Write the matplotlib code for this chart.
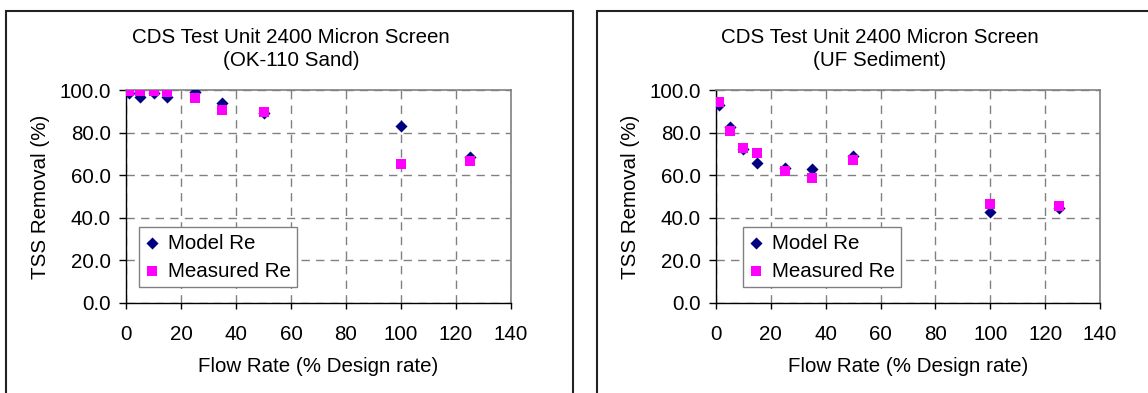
import matplotlib
matplotlib.use("Agg")
import matplotlib.pyplot as plt
from matplotlib.patches import Rectangle
from matplotlib.ticker import FormatStrFormatter, MultipleLocator

plt.rcParams['font.family'] = ['Liberation Sans', 'DejaVu Sans']

flow = [1, 5, 10, 15, 25, 35, 50, 100, 125]

sand_model = [98.7, 96.9, 98.7, 96.6, 99.2, 94.0, 89.0, 83.1, 68.7]
sand_measured = [99.7, 99.7, 99.7, 99.2, 96.1, 90.6, 89.5, 65.1, 66.8]

uf_model = [93.0, 82.8, 72.3, 65.7, 63.5, 62.8, 69.0, 42.6, 44.5]
uf_measured = [94.4, 80.6, 72.6, 70.3, 61.8, 58.8, 67.1, 46.3, 45.7]

titles = ["CDS Test Unit 2400 Micron Screen\n(OK-110 Sand)",
          "CDS Test Unit 2400 Micron Screen\n(UF Sediment)"]
series_labels = ["Model Re", "Measured Re"]
xlabel = "Flow Rate (% Design rate)"
ylabel = "TSS Removal (%)"

W, H = 1148, 393
fig = plt.figure(figsize=(W / 100, H / 100), dpi=100)

FS = 14.8

panels = [
    dict(ax=(126, 511), box=(6, 573), title_x=291, leg_x=0.034,
         model=sand_model, meas=sand_measured, title=titles[0]),
    dict(ax=(716, 1100), box=(597, 1170), title_x=880, leg_x=0.07,
         model=uf_model, meas=uf_measured, title=titles[1]),
]

ax_top, ax_bot = 90, 303

for p in panels:
    x0, x1 = p['ax']
    ax = fig.add_axes([x0 / W, 1 - ax_bot / H, (x1 - x0) / W, (ax_bot - ax_top) / H])
    ax.scatter(flow, p['model'], marker='D', s=38, color='#000080',
               label=series_labels[0], zorder=3, linewidths=0)
    ax.scatter(flow, p['meas'], marker='s', s=50, color='#FF00FF',
               label=series_labels[1], zorder=4, linewidths=0)
    ax.set_xlim(0, 140)
    ax.set_ylim(0, 100)
    ax.xaxis.set_major_locator(MultipleLocator(20))
    ax.yaxis.set_major_locator(MultipleLocator(20))
    ax.yaxis.set_major_formatter(FormatStrFormatter('%.1f'))
    ax.grid(True, color='#808080', linestyle=(0, (6, 4.5)), linewidth=1.0)
    ax.set_axisbelow(True)
    for s in ['top', 'right']:
        ax.spines[s].set_color('#808080')
        ax.spines[s].set_linewidth(1.2)
    for s in ['left', 'bottom']:
        ax.spines[s].set_color('black')
        ax.spines[s].set_linewidth(1.0)
    ax.tick_params(axis='x', direction='out', length=4.5, width=1.0,
                   pad=11, labelsize=FS)
    ax.tick_params(axis='y', direction='out', length=5, width=1.0,
                   pad=6, labelsize=FS)
    ax.set_xlabel(xlabel, fontsize=FS, labelpad=10)
    ax.set_ylabel(ylabel, fontsize=FS, labelpad=7)
    leg = ax.legend(loc='lower left', bbox_to_anchor=(p['leg_x'], 0.075),
                    borderaxespad=0, fontsize=FS, frameon=True, fancybox=False,
                    edgecolor='#808080', framealpha=1, handlelength=0.7,
                    handletextpad=0.4, borderpad=0.3, labelspacing=0.45,
                    scatterpoints=1)
    leg.get_frame().set_linewidth(1.0)
    fig.text(p['title_x'] / W, 1 - 49 / H, p['title'], ha='center', va='center',
             fontsize=FS, linespacing=1.33)
    bx0, bx1 = p['box']
    fig.patches.append(Rectangle((bx0 / W, -0.2), (bx1 - bx0) / W, 1.2 - 11 / H,
                                 transform=fig.transFigure, fill=False,
                                 edgecolor='#222222', linewidth=1.5))

fig.savefig("out.png", dpi=100)
